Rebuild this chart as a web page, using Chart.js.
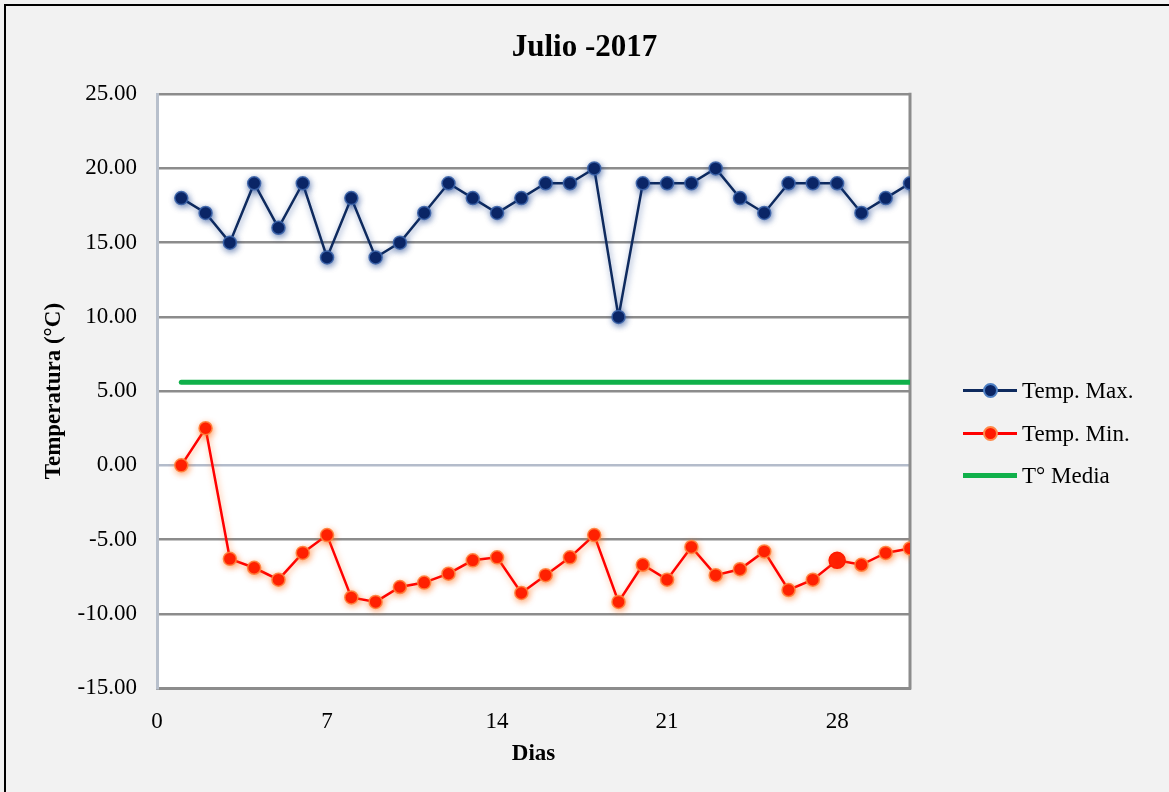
<!DOCTYPE html>
<html>
<head>
<meta charset="utf-8">
<script src="https://cdn.jsdelivr.net/npm/chart.js@4.4.1/dist/chart.umd.min.js"></script>
<style>
  html, body { margin:0; padding:0; background:#f2f2f2; width:1169px; height:792px; overflow:hidden; }
  #wrap { position:absolute; left:0; top:0; width:1169px; height:792px; }
  #frame { position:absolute; left:4px; top:4px; width:1200px; height:900px; border-left:2px solid #000; border-top:2px solid #000; pointer-events:none; }
  .lg { position:absolute; left:963px; height:30px; font-family:"Liberation Serif", "Times New Roman", serif; font-size:23px; color:#000; }
  .lg .ln { position:absolute; left:0; width:54px; top:50%; }
  .lg .dot { position:absolute; left:20px; width:11px; height:11px; border-radius:50%; top:50%; margin-top:-7.5px; }
  .lg .tx { position:absolute; left:59px; top:50%; transform:translateY(-50%); white-space:nowrap; line-height:1; }
</style>
</head>
<body>
<div id="wrap"><canvas id="c" width="1169" height="792"></canvas></div>
<div id="frame"></div>
<div class="lg" style="top:375px"><div class="ln" style="height:3px;margin-top:-1.5px;background:#0e2a5e"></div><div class="dot" style="background:#0a2463;border:2px solid #4f80c4"></div><div class="tx">Temp. Max.</div></div>
<div class="lg" style="top:418px"><div class="ln" style="height:3px;margin-top:-1.5px;background:#ff0000"></div><div class="dot" style="background:#ff1a00;border:2px solid #ff8a4a"></div><div class="tx">Temp. Min.</div></div>
<div class="lg" style="top:460px"><div class="ln" style="height:5px;margin-top:-2.5px;background:#10b04a"></div><div class="tx">T° Media</div></div>
<script>
const chartTitle = "Julio -2017";
const days = [1,2,3,4,5,6,7,8,9,10,11,12,13,14,15,16,17,18,19,20,21,22,23,24,25,26,27,28,29,30,31];
const tempMax = [18,17,15,19,16,19,14,18,14,15,17,19,18,17,18,19,19,20,10,19,19,19,20,18,17,19,19,19,17,18,19];
const tempMin = [0.0,2.5,-6.3,-6.9,-7.7,-5.9,-4.7,-8.9,-9.2,-8.2,-7.9,-7.3,-6.4,-6.2,-8.6,-7.4,-6.2,-4.7,-9.2,-6.7,-7.7,-5.5,-7.4,-7.0,-5.8,-8.4,-7.7,-6.4,-6.7,-5.9,-5.6];
const tMedia = [5.6,5.6,5.6,5.6,5.6,5.6,5.6,5.6,5.6,5.6,5.6,5.6,5.6,5.6,5.6,5.6,5.6,5.6,5.6,5.6,5.6,5.6,5.6,5.6,5.6,5.6,5.6,5.6,5.6,5.6,5.6];
const xTicks = [0,7,14,21,28];
const yMin = -15, yMax = 25, yStep = 5;
const seriesNames = ["Temp. Max.", "Temp. Min.", "T° Media"];

const pts = (vals) => days.map((d, i) => ({x: d, y: vals[i]}));

const serif = '"Liberation Serif", "Times New Roman", serif';

const plotBg = {
  id: 'plotBg',
  beforeDraw(chart) {
    const {ctx, chartArea: a} = chart;
    ctx.save();
    ctx.fillStyle = '#ffffff';
    ctx.fillRect(a.left, a.top, a.right - a.left, a.bottom - a.top);
    ctx.restore();
  },
  beforeDatasetsDraw(chart) {
    const {ctx, chartArea: a} = chart;
    ctx.save();
    ctx.strokeStyle = '#8c8c8c';
    ctx.lineWidth = 3;
    ctx.beginPath();
    ctx.moveTo(a.right, a.top - 1.5);
    ctx.lineTo(a.right, a.bottom + 1.5);
    ctx.stroke();
    ctx.restore();
  },
  beforeDatasetDraw(chart, args) {
    const ctx = chart.ctx;
    ctx.save();
    if (args.index === 0) { ctx.shadowColor = 'rgba(20,60,140,0.55)'; ctx.shadowBlur = 6; ctx.shadowOffsetX = 1; ctx.shadowOffsetY = 2; }
    if (args.index === 1) { ctx.shadowColor = 'rgba(255,110,20,0.55)'; ctx.shadowBlur = 6; ctx.shadowOffsetX = 1; ctx.shadowOffsetY = 2; }
  },
  afterDatasetDraw(chart) { chart.ctx.restore(); }
};

new Chart(document.getElementById('c'), {
  type: 'line',
  data: {
    datasets: [
      { label: seriesNames[0], data: pts(tempMax), borderColor: '#0e2a5e', borderWidth: 2.5,
        pointBackgroundColor: '#0a2463', pointBorderColor: 'rgba(60,100,170,0.9)', pointBorderWidth: 1.5,
        pointRadius: 6.5, pointHoverRadius: 6.5, tension: 0 },
      { label: seriesNames[1], data: pts(tempMin), borderColor: '#ff0000', borderWidth: 2.5,
        pointBackgroundColor: '#ff1a00', pointBorderColor: (c) => c.dataIndex === 27 ? '#ff1a00' : 'rgba(255,130,60,0.9)', pointBorderWidth: 1.5,
        pointRadius: (c) => c.dataIndex === 27 ? 8 : 6.5, pointHoverRadius: 6.5, tension: 0 },
      { label: seriesNames[2], data: pts(tMedia), borderColor: '#10b04a', borderWidth: 5,
        pointRadius: 0, pointHoverRadius: 0, borderCapStyle: 'round', tension: 0 }
    ]
  },
  options: {
    responsive: false,
    animation: false,
    events: [],
    layout: { padding: { left: 0, right: 0, top: 0, bottom: 0 } },
    plugins: {
      legend: { display: false },
      tooltip: { enabled: false },
      title: { display: true, text: chartTitle, color: '#000',
        font: { family: serif, size: 31, weight: 'bold' },
        padding: { top: 29, bottom: 28 } }
    },
    scales: {
      x: {
        type: 'linear', min: 0, max: 31,
        afterBuildTicks(s) { s.ticks = xTicks.map(v => ({value: v})); },
        afterFit(s) { s.height = 104; },
        ticks: { stepSize: 7, includeBounds: false, color: '#000', padding: 20, font: { family: serif, size: 23 } },
        grid: { display: false, drawTicks: false },
        border: { display: true, color: '#8c8c8c', width: 3 },
        title: { display: true, text: 'Dias', color: '#000', font: { family: serif, size: 23, weight: 'bold' }, padding: { top: 0, bottom: 24 } }
      },
      y: {
        min: yMin, max: yMax,
        afterFit(s) { s.width = 157; },
        ticks: { stepSize: yStep, color: '#000', padding: 20, font: { family: serif, size: 23 },
          callback: (v) => Number(v).toFixed(2) },
        grid: { drawTicks: false, lineWidth: 2.5,
          color: (c) => (c.tick && c.tick.value === 0) ? '#b4bccb' : '#8c8c8c' },
        border: { display: true, color: '#b8c0cc', width: 3 },
        title: { display: true, text: 'Temperatura (°C)', color: '#000', font: { family: serif, size: 23, weight: 'bold' }, padding: { top: 40, bottom: 0 } }
      },
      y2: {
        position: 'right', display: true,
        afterFit(s) { s.width = 259; },
        ticks: { display: false },
        grid: { display: false, drawTicks: false },
        border: { display: false }
      }
    }
  },
  plugins: [plotBg]
});
</script>
</body>
</html>
